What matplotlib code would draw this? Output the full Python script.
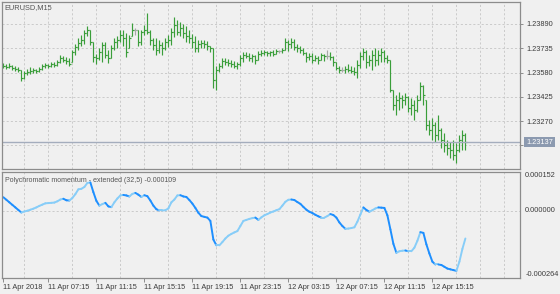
import matplotlib
matplotlib.use('Agg')
import matplotlib.pyplot as plt
from matplotlib.collections import LineCollection
from matplotlib.transforms import blended_transform_factory
import numpy as np

symbol = 'EURUSD,M15'
ind_title = 'Polychromatic momentum - extended (32,5) -0.000109'

first_open = 1.23628
highs = [1.23641, 1.23635, 1.23641, 1.23628, 1.23622, 1.23616, 1.23597, 1.23590, 1.23603, 1.23616,
         1.23609, 1.23603, 1.23616, 1.23635, 1.23641, 1.23635, 1.23648, 1.23648, 1.23660, 1.23692,
         1.23686, 1.23679, 1.23673, 1.23724, 1.23762, 1.23801, 1.23820, 1.23852, 1.23877, 1.23852,
         1.23775, 1.23699, 1.23737, 1.23775, 1.23775, 1.23724, 1.23756, 1.23801, 1.23813, 1.23852,
         1.23852, 1.23833, 1.23820, 1.23896, 1.23864, 1.23852, 1.23852, 1.23884, 1.23960, 1.23852,
         1.23801, 1.23801, 1.23788, 1.23775, 1.23801, 1.23820, 1.23864, 1.23935, 1.23916, 1.23903,
         1.23890, 1.23877, 1.23852, 1.23826, 1.23813, 1.23788, 1.23788, 1.23788, 1.23782, 1.23750,
         1.23737, 1.23622, 1.23641, 1.23673, 1.23673, 1.23667, 1.23660, 1.23654, 1.23648, 1.23692,
         1.23711, 1.23711, 1.23705, 1.23699, 1.23692, 1.23718, 1.23724, 1.23724, 1.23718, 1.23718,
         1.23724, 1.23731, 1.23724, 1.23737, 1.23801, 1.23788, 1.23801, 1.23794, 1.23762, 1.23750,
         1.23737, 1.23711, 1.23705, 1.23705, 1.23692, 1.23686, 1.23705, 1.23699, 1.23724, 1.23711,
         1.23686, 1.23648, 1.23622, 1.23616, 1.23622, 1.23635, 1.23622, 1.23616, 1.23660, 1.23711,
         1.23737, 1.23724, 1.23692, 1.23724, 1.23737, 1.23724, 1.23737, 1.23724, 1.23692, 1.23660,
         1.23469, 1.23437, 1.23456, 1.23437, 1.23450, 1.23431, 1.23418, 1.23405, 1.23437, 1.23520,
         1.23501, 1.23405, 1.23278, 1.23290, 1.23265, 1.23309, 1.23226, 1.23195, 1.23150, 1.23137,
         1.23150, 1.23131, 1.23182, 1.23214, 1.23195]
lows = [1.23609, 1.23603, 1.23609, 1.23597, 1.23590, 1.23584, 1.23526, 1.23539, 1.23565, 1.23571,
        1.23577, 1.23577, 1.23584, 1.23597, 1.23609, 1.23609, 1.23616, 1.23616, 1.23622, 1.23641,
        1.23648, 1.23635, 1.23622, 1.23648, 1.23692, 1.23724, 1.23750, 1.23762, 1.23813, 1.23756,
        1.23648, 1.23635, 1.23660, 1.23648, 1.23673, 1.23641, 1.23673, 1.23724, 1.23737, 1.23775,
        1.23750, 1.23679, 1.23737, 1.23813, 1.23820, 1.23750, 1.23756, 1.23820, 1.23826, 1.23756,
        1.23724, 1.23692, 1.23705, 1.23692, 1.23724, 1.23743, 1.23756, 1.23807, 1.23820, 1.23813,
        1.23801, 1.23775, 1.23769, 1.23737, 1.23711, 1.23711, 1.23737, 1.23737, 1.23724, 1.23711,
        1.23482, 1.23469, 1.23584, 1.23609, 1.23628, 1.23622, 1.23616, 1.23609, 1.23603, 1.23622,
        1.23648, 1.23673, 1.23654, 1.23648, 1.23635, 1.23660, 1.23686, 1.23692, 1.23686, 1.23686,
        1.23686, 1.23699, 1.23705, 1.23705, 1.23724, 1.23718, 1.23737, 1.23724, 1.23711, 1.23705,
        1.23692, 1.23648, 1.23660, 1.23641, 1.23654, 1.23635, 1.23660, 1.23654, 1.23667, 1.23660,
        1.23622, 1.23597, 1.23577, 1.23584, 1.23577, 1.23584, 1.23577, 1.23565, 1.23545, 1.23609,
        1.23660, 1.23609, 1.23622, 1.23597, 1.23622, 1.23628, 1.23648, 1.23648, 1.23641, 1.23456,
        1.23341, 1.23309, 1.23341, 1.23354, 1.23373, 1.23329, 1.23309, 1.23278, 1.23329, 1.23405,
        1.23373, 1.23214, 1.23182, 1.23150, 1.23137, 1.23150, 1.23099, 1.23073, 1.23054, 1.23035,
        1.23022, 1.23003, 1.23073, 1.23086, 1.23086]
closes = [1.23622, 1.23616, 1.23622, 1.23609, 1.23603, 1.23597, 1.23545, 1.23577, 1.23584, 1.23590,
          1.23597, 1.23590, 1.23603, 1.23622, 1.23628, 1.23622, 1.23635, 1.23628, 1.23648, 1.23673,
          1.23660, 1.23654, 1.23635, 1.23711, 1.23743, 1.23769, 1.23788, 1.23833, 1.23852, 1.23775,
          1.23679, 1.23673, 1.23711, 1.23756, 1.23692, 1.23673, 1.23737, 1.23775, 1.23788, 1.23820,
          1.23801, 1.23711, 1.23801, 1.23852, 1.23852, 1.23775, 1.23839, 1.23852, 1.23839, 1.23788,
          1.23756, 1.23724, 1.23756, 1.23737, 1.23775, 1.23788, 1.23839, 1.23884, 1.23839, 1.23864,
          1.23833, 1.23813, 1.23801, 1.23775, 1.23737, 1.23762, 1.23769, 1.23762, 1.23750, 1.23737,
          1.23533, 1.23597, 1.23622, 1.23654, 1.23648, 1.23641, 1.23635, 1.23622, 1.23635, 1.23673,
          1.23692, 1.23686, 1.23673, 1.23686, 1.23660, 1.23699, 1.23705, 1.23711, 1.23705, 1.23711,
          1.23699, 1.23718, 1.23718, 1.23724, 1.23775, 1.23762, 1.23775, 1.23743, 1.23737, 1.23724,
          1.23705, 1.23679, 1.23686, 1.23660, 1.23673, 1.23660, 1.23692, 1.23686, 1.23686, 1.23679,
          1.23648, 1.23609, 1.23597, 1.23597, 1.23603, 1.23597, 1.23590, 1.23584, 1.23628, 1.23686,
          1.23711, 1.23648, 1.23660, 1.23692, 1.23660, 1.23692, 1.23711, 1.23673, 1.23660, 1.23469,
          1.23373, 1.23405, 1.23418, 1.23405, 1.23424, 1.23354, 1.23373, 1.23341, 1.23405, 1.23494,
          1.23437, 1.23246, 1.23214, 1.23246, 1.23182, 1.23214, 1.23150, 1.23118, 1.23099, 1.23086,
          1.23054, 1.23086, 1.23150, 1.23182, 1.23137]

momentum = [53e-6, 43e-6, 33e-6, 23e-6, 13e-6, 3e-6, -7e-6, -3e-6, 0e-6, 4e-6,
            8e-6, 13e-6, 19e-6, 24e-6, 29e-6, 30e-6, 31e-6, 32e-6, 37e-6, 44e-6,
            47e-6, 41e-6, 40e-6, 50e-6, 65e-6, 84e-6, 86e-6, 93e-6, 109e-6, 111e-6,
            73e-6, 39e-6, 20e-6, 26e-6, 31e-6, 17e-6, 14e-6, 33e-6, 48e-6, 60e-6,
            62e-6, 60e-6, 56e-6, 66e-6, 70e-6, 63e-6, 54e-6, 61e-6, 57e-6, 40e-6,
            20e-6, 6e-6, 1e-6, 1e-6, 2e-6, 9e-6, 33e-6, 44e-6, 60e-6, 61e-6,
            56e-6, 54e-6, 42e-6, 28e-6, 11e-6, -8e-6, -21e-6, -24e-6, -27e-6, -40e-6,
            -113e-6, -136e-6, -136e-6, -123e-6, -109e-6, -98e-6, -91e-6, -85e-6, -80e-6, -60e-6,
            -40e-6, -36e-6, -32e-6, -29e-6, -27e-6, -36e-6, -26e-6, -18e-6, -13e-6, -7e-6,
            -3e-6, 2e-6, 6e-6, 20e-6, 35e-6, 43e-6, 44e-6, 42e-6, 34e-6, 27e-6,
            15e-6, 4e-6, -4e-6, -9e-6, -16e-6, -22e-6, -27e-6, -27e-6, -21e-6, -13e-6,
            -17e-6, -27e-6, -46e-6, -60e-6, -71e-6, -70e-6, -68e-6, -65e-6, -43e-6, -15e-6,
            13e-6, 3e-6, -4e-6, 2e-6, 9e-6, 13e-6, 12e-6, 11e-6, -18e-6, -73e-6,
            -130e-6, -165e-6, -159e-6, -157e-6, -156e-6, -159e-6, -159e-6, -145e-6, -118e-6, -84e-6,
            -87e-6, -132e-6, -168e-6, -200e-6, -211e-6, -211e-6, -213e-6, -220e-6, -227e-6, -230e-6,
            -233e-6, -236e-6, -200e-6, -150e-6, -109e-6]

tick_bars = [0, 15, 31, 47, 63, 79, 95, 111, 127, 143]
tick_labels = ['11 Apr 2018', '11 Apr 07:15', '11 Apr 11:15', '11 Apr 15:15', '11 Apr 19:15',
               '11 Apr 23:15', '12 Apr 03:15', '12 Apr 07:15', '12 Apr 11:15', '12 Apr 15:15']
price_ticks = [1.23890, 1.23735, 1.23580, 1.23425, 1.23270, 1.23115]
ind_min, ind_max = -0.000264, 0.000152

plt.rcParams['font.family'] = ['Liberation Sans', 'DejaVu Sans']
BG = '#f0f0f0'
FRAME = '#8c8c8c'
GRID = '#c4c4c4'
TXT = '#3c3c3c'
FS = 5.3

W, H = 560, 294
fig = plt.figure(figsize=(W / 100, H / 100), dpi=100, facecolor=BG)


def rect(l, t, r, b):
    return [l / W, 1 - b / H, (r - l) / W, (b - t) / H]


ax = fig.add_axes(rect(2, 2, 520, 169))
ax2 = fig.add_axes(rect(2, 172, 520, 278))
n = len(closes)
x = np.arange(n)
xlim = (-0.45, 172.2)

for a in (ax, ax2):
    a.set_facecolor(BG)
    a.set_xlim(*xlim)
    for s in a.spines.values():
        s.set_color(FRAME)
        s.set_linewidth(0.9)
    a.set_xticks(np.arange(7, 172, 8), minor=True)
    a.xaxis.grid(True, which='minor', ls=(0, (2.5, 2.5)), color=GRID, lw=0.6)
    a.set_axisbelow(True)

# --- price bars
hi = np.array(highs)
lo = np.array(lows)
cl = np.array(closes)
op = np.clip(np.r_[first_open, cl[:-1]], lo, hi)
cols = ['#a8a8a8' if abs(o - c) < 1e-7 else '#3a9e3a' for o, c in zip(op, cl)]
ax.vlines(x, lo, hi, colors=cols, lw=0.85)
ax.hlines(op, x - 0.45, x, colors=cols, lw=0.85)
ax.hlines(cl, x, x + 0.45, colors=cols, lw=0.85)
ax.set_ylim(1.22965, 1.24030)
ax.yaxis.tick_right()
ax.set_yticks(price_ticks)
# the lowest level's label sits under the current-price box in the reference
ax.set_yticklabels(['%.5f' % p for p in price_ticks[:-1]] + [''])
ax.yaxis.grid(True, ls=(0, (2.5, 2.5)), color=GRID, lw=0.6)
ax.tick_params(axis='y', length=2.5, width=0.7, color=FRAME, labelsize=FS, labelcolor=TXT, pad=2)
ax.tick_params(axis='x', which='both', length=0, labelbottom=False)
ax.axhline(cl[-1], color='#a4adbd', lw=1.0)
tr = blended_transform_factory(ax.transAxes, ax.transData)
ax.text(1.012, cl[-1], '%.5f' % cl[-1], transform=tr, ha='left', va='center', fontsize=FS,
        color='white', bbox=dict(boxstyle='square,pad=0.25', fc='#8c9ab0', ec='none'), zorder=5)
ax.text(0.005, 0.985, symbol, transform=ax.transAxes, ha='left', va='top', fontsize=FS, color='#555555')

# --- indicator
m = np.array(momentum)
segs = np.stack([np.c_[x[:-1], m[:-1]], np.c_[x[1:], m[1:]]], axis=1)
scol = ['#1e8fff' if m[i + 1] < m[i] else '#87cdf8' for i in range(n - 1)]
lc = LineCollection(segs, colors=scol, linewidths=1.4, capstyle='round')
ax2.add_collection(lc)
ax2.set_ylim(ind_min, ind_max)
ax2.yaxis.tick_right()
ax2.set_yticks([0.0])
ax2.set_yticklabels([])
ax2.yaxis.grid(True, ls=(0, (2.5, 2.5)), color=GRID, lw=0.6)
ax2.tick_params(axis='y', length=0)
for val, va in ((ind_max, 'top'), (0.0, 'center'), (ind_min, 'bottom')):
    ax2.text(1.01, val, '%.6f' % val, transform=blended_transform_factory(ax2.transAxes, ax2.transData),
             ha='left', va=va, fontsize=FS, color=TXT)
ax2.set_xticks(tick_bars)
ax2.set_xticklabels(tick_labels)
for lbl in ax2.get_xticklabels():
    lbl.set_horizontalalignment('left')
ax2.tick_params(axis='x', which='major', length=3, width=0.7, color=FRAME, labelsize=FS,
                labelcolor=TXT, pad=1.5)
ax2.tick_params(axis='x', which='minor', length=0)
ax2.text(0.005, 0.95, ind_title, transform=ax2.transAxes, ha='left', va='top', fontsize=5.0,
         color='#555555')

fig.savefig('out.png', dpi=100, facecolor=BG)
